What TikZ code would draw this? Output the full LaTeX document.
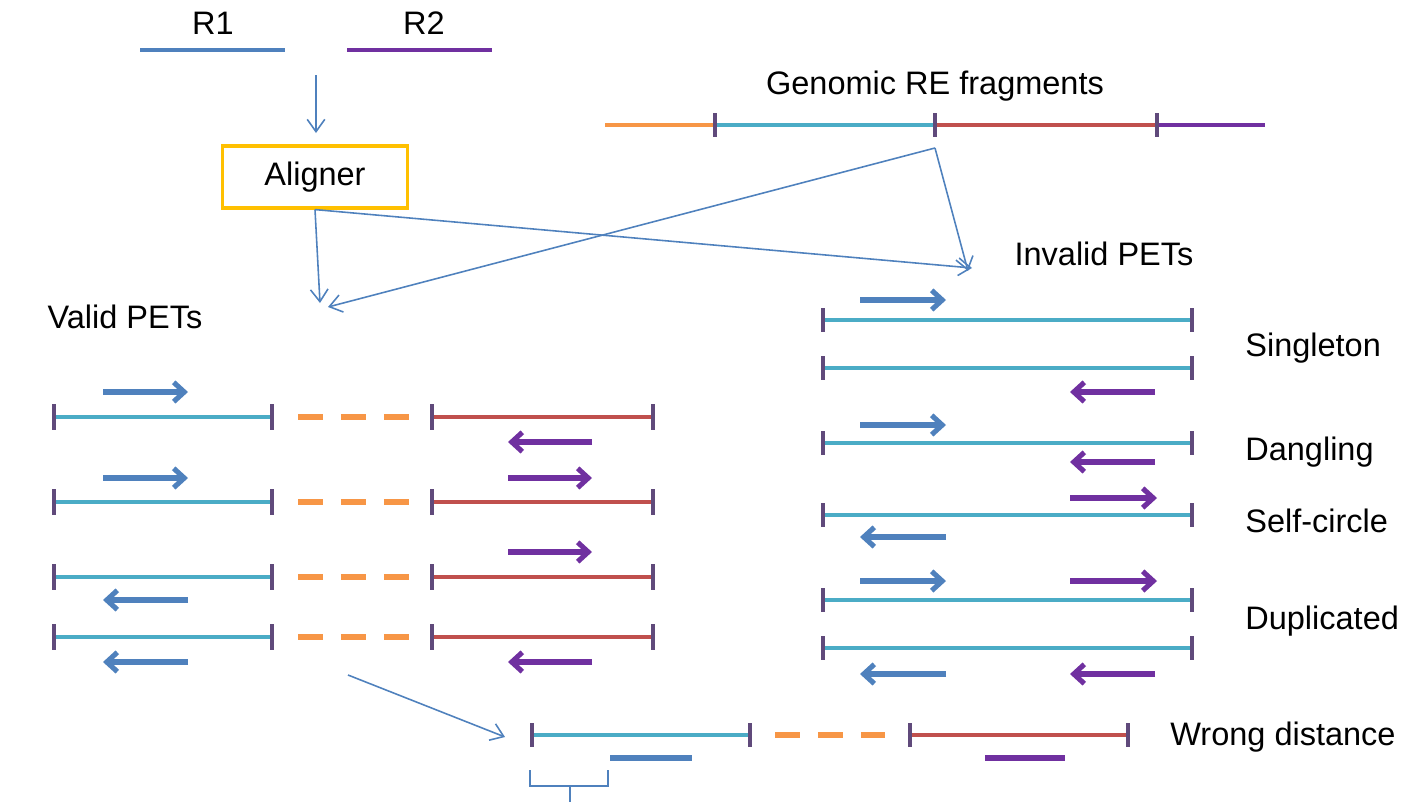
\documentclass[tikz,border=0pt]{standalone}
\usepackage{fontspec}
\setmainfont{Liberation Sans}
\usetikzlibrary{arrows.meta,positioning,calc}

\begin{document}
\begin{tikzpicture}[
            x=0.02cm,y=-0.02cm,
            >={Straight Barb[length=7pt,width=10pt]},
            fragline/.style={line width=2.8pt},
            gapline/.style={line width=3pt,colorOrange,dash pattern=on 0.5cm off 0.36cm},
            tickmark/.style={line width=2.2pt,colorTick},
            readarrow/.style={line width=2.9pt,-{Straight Barb[length=6pt,width=11pt]}},
            readbar/.style={line width=2.9pt},
            flow/.style={->,line width=0.9pt,colorBlue},
            caption/.style={font=\fontsize{18.5}{22}\selectfont,inner sep=0pt,anchor=base},
            namebox/.style={draw=colorGold,line width=1.8pt,minimum width=3.7cm,minimum height=1.24cm,
                font=\fontsize{18.5}{22}\selectfont}
        ]

        % Define colors
        \definecolor{colorTeal}{RGB}{75,172,198};
        \definecolor{colorRed}{RGB}{192,80,77};
        \definecolor{colorBlue}{RGB}{79,129,189};
        \definecolor{colorPurple}{RGB}{112,48,160};
        \definecolor{colorOrange}{RGB}{247,150,70};
        \definecolor{colorTick}{RGB}{96,74,123};
        \definecolor{colorGold}{RGB}{255,192,0};

        \useasboundingbox (0,0) rectangle (1427,802);

        % Reads and aligner
        \node[caption] (r1) at (213,34) {R1};
        \node[caption] (r2) at (424,34) {R2};
        \draw[fragline,colorBlue] (140,50) -- (285,50);
        \draw[fragline,colorPurple] (347,50) -- (492,50);
        \node[namebox] (aligner) at (315,177) {Aligner};
        \coordinate (readsout) at (316,75);
        \coordinate (alignin) at (316,133);
        \draw[flow] (readsout) -- (alignin);

        % Genomic RE fragments
        \node[caption] (genome) at (935,94) {Genomic RE fragments};
        \draw[fragline,colorOrange] (605,125) -- (715,125);
        \draw[fragline,colorTeal] (715,125) -- (935,125);
        \draw[fragline,colorRed] (935,125) -- (1157,125);
        \draw[fragline,colorPurple] (1157,125) -- (1265,125);
        \foreach \x in {715,935,1157} \draw[tickmark] (\x,113) -- (\x,137);
        \coordinate (fragout) at (935,148);

        % Group labels and the crossing arrows
        \node[caption] (valid) at (125,328) {Valid PETs};
        \node[caption] (invalid) at (1104,265) {Invalid PETs};
        \coordinate (validA) at (320,303);
        \coordinate (validB) at (328,307);
        \coordinate (invalidA) at (972,268);
        \coordinate (invalidB) at (968,271);
        \draw[flow] (aligner.south) -- (validA);
        \draw[flow] (aligner.south) -- (invalidA);
        \draw[flow] (fragout) -- (validB);
        \draw[flow] (fragout) -- (invalidB);

        % Valid PETs
        \foreach \y in {417,502,577,637} {
            \draw[fragline,colorTeal] (54,\y) -- (272,\y);
            \draw[gapline] (298,\y) -- (410,\y);
            \draw[fragline,colorRed] (432,\y) -- (653,\y);
            \foreach \x in {54,272,432,653} \draw[tickmark] (\x,\y-13) -- (\x,\y+13);
        }
        \foreach \xa/\xb/\y/\c in {103/188/392/colorBlue, 592/508/442/colorPurple,
                103/188/478/colorBlue, 508/592/478/colorPurple,
                508/592/552/colorPurple, 188/103/600/colorBlue,
                188/103/662/colorBlue, 592/508/662/colorPurple}
            \draw[readarrow,\c] (\xa,\y) -- (\xb,\y);

        % Invalid PETs
        \foreach \y in {320,368,443,515,600,648} {
            \draw[fragline,colorTeal] (823,\y) -- (1192,\y);
            \foreach \x in {823,1192} \draw[tickmark] (\x,\y-12) -- (\x,\y+12);
        }
        \foreach \xa/\xb/\y/\c in {860/946/300/colorBlue, 1155/1070/392/colorPurple,
                860/946/425/colorBlue, 1155/1070/462/colorPurple,
                1070/1157/498/colorPurple, 946/860/537/colorBlue,
                860/946/581/colorBlue, 1070/1157/581/colorPurple,
                946/860/674/colorBlue, 1155/1070/674/colorPurple}
            \draw[readarrow,\c] (\xa,\y) -- (\xb,\y);

        \node[caption,anchor=base west] (singleton) at (1245,356) {Singleton};
        \node[caption,anchor=base west] (dangling) at (1245,460) {Dangling};
        \node[caption,anchor=base west] (selfcircle) at (1245,532) {Self-circle};
        \node[caption,anchor=base west] (duplicated) at (1245,629) {Duplicated};

        % Wrong distance
        \coordinate (wrongout) at (348,675);
        \coordinate (wrongin) at (505,737);
        \draw[flow] (wrongout) -- (wrongin);
        \draw[fragline,colorTeal] (532,735) -- (750,735);
        \draw[gapline] (775,735) -- (885,735);
        \draw[fragline,colorRed] (910,735) -- (1128,735);
        \foreach \x in {532,750,910,1128} \draw[tickmark] (\x,723) -- (\x,747);
        \draw[readbar,colorBlue] (610,758) -- (692,758);
        \draw[readbar,colorPurple] (985,758) -- (1065,758);
        \draw[line width=1.2pt,colorBlue] (530,770) -- (530,786) -- (608,786) -- (608,770);
        \draw[line width=1.2pt,colorBlue] (570,786) -- (570,802);
        \node[caption,anchor=base west] (wrongdist) at (1170,745) {Wrong distance};

        \end{tikzpicture}
\end{document}
